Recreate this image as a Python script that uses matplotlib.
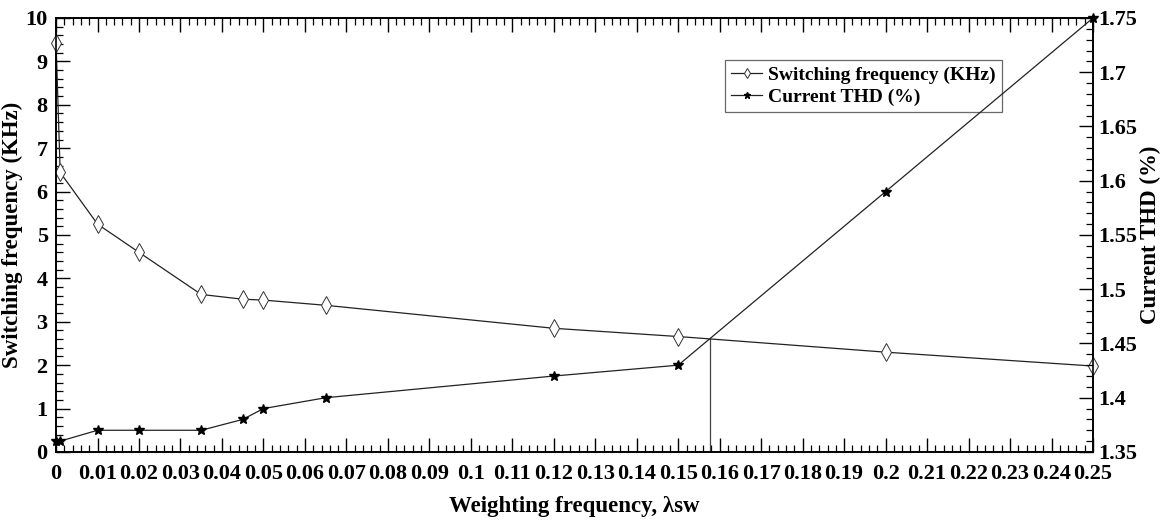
import matplotlib
matplotlib.use("Agg")
import matplotlib.pyplot as plt
import numpy as np
from matplotlib.ticker import MultipleLocator, FormatStrFormatter

# weighting factor lambda_sw
lam = [0, 0.001, 0.01, 0.02, 0.035, 0.045, 0.05, 0.065, 0.12, 0.15, 0.2, 0.25]
# switching frequency (kHz), left axis
fsw = [9.43, 6.44, 5.25, 4.6, 3.63, 3.52, 3.5, 3.38, 2.85, 2.66, 2.3, 1.98]
# current THD (%), right axis
thd = [1.36, 1.36, 1.37, 1.37, 1.37, 1.38, 1.39, 1.40, 1.42, 1.43, 1.59, 1.75]

FONT = "Liberation Serif"
TICK_FS = 16
LABEL_FS = 16.5

fig = plt.figure(figsize=(11.63, 5.23), dpi=100)
ax = fig.add_axes([0.0482, 0.1358, 0.8916, 0.8298])
ax2 = ax.twinx()

ax.set_xlim(0, 0.25)
ax.set_ylim(0, 10)
ax2.set_ylim(1.35, 1.75)

l1, = ax.plot(lam, fsw, color="#222222", lw=0.9, marker="d", ms=9,
              mfc="white", mec="#333333", mew=0.7,
              label="Switching frequency (KHz)", clip_on=False, zorder=3)
l2, = ax2.plot(lam, thd, color="#222222", lw=0.9, marker="*", ms=7.5,
               mfc="black", mec="black", label="Current THD (%)",
               clip_on=False, zorder=3)

# crossing point of the two curves (THD mapped onto the left scale)
x_dense = np.linspace(0.12, 0.25, 20001)
f_d = np.interp(x_dense, lam, fsw)
t_d = (np.interp(x_dense, lam, thd) - 1.35) / 0.40 * 10
i = np.argmin(np.abs(f_d - t_d))
ax.plot([x_dense[i], x_dense[i]], [0, f_d[i]], color="#444444", lw=0.9)

ax.xaxis.set_major_locator(MultipleLocator(0.01))
ax.xaxis.set_minor_locator(MultipleLocator(0.002))
ax.xaxis.set_major_formatter(FormatStrFormatter("%g"))
ax.yaxis.set_major_locator(MultipleLocator(1))
ax.yaxis.set_minor_locator(MultipleLocator(0.2))
ax2.yaxis.set_major_locator(MultipleLocator(0.05))
ax2.yaxis.set_minor_locator(MultipleLocator(0.01))
ax2.yaxis.set_major_formatter(FormatStrFormatter("%g"))

ax.tick_params(axis="x", which="both", direction="in", top=True, bottom=True, pad=9)
ax.tick_params(axis="y", which="both", direction="in", left=True, right=False, pad=6)
ax2.tick_params(axis="y", which="both", direction="in", right=True, left=False, pad=4)
for a in (ax, ax2):
    a.tick_params(which="major", length=10, width=1.0)
    a.tick_params(which="minor", length=5, width=0.9)
    for lab in a.get_xticklabels() + a.get_yticklabels():
        lab.set_fontfamily(FONT)
        lab.set_fontweight("bold")
        lab.set_fontsize(TICK_FS)
    for s in a.spines.values():
        s.set_linewidth(1.2)

ax.set_xlabel("Weighting frequency, λsw", fontfamily=FONT, fontweight="bold",
              fontsize=LABEL_FS, labelpad=8)
ax.set_ylabel("Switching frequency (KHz)", fontfamily=FONT, fontweight="bold",
              fontsize=LABEL_FS, labelpad=2)
ax2.set_ylabel("Current THD (%)", fontfamily=FONT, fontweight="bold",
               fontsize=LABEL_FS, labelpad=2)

leg = ax.legend(handles=[l1, l2], loc="upper left", bbox_to_anchor=(0.636, 0.925),
                prop={"family": FONT, "weight": "bold", "size": 14},
                frameon=True, fancybox=False, edgecolor="#444444",
                handlelength=1.6, handletextpad=0.3, borderpad=0.3,
                labelspacing=0.25, markerscale=0.6)
leg.get_frame().set_linewidth(0.9)

fig.savefig("out.png", dpi=100)
